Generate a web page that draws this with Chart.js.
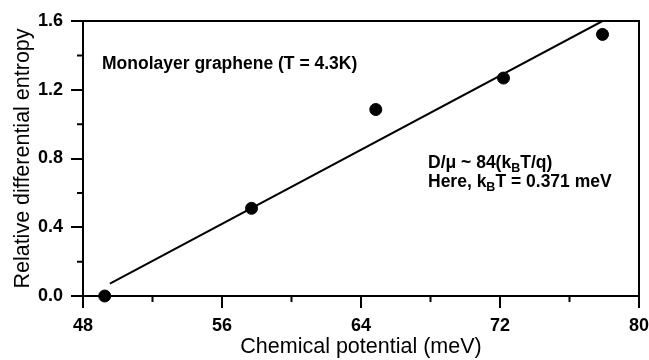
<!DOCTYPE html>
<html>
<head>
<meta charset="utf-8">
<script src="https://cdn.jsdelivr.net/npm/chart.js@4.4.1/dist/chart.umd.min.js"></script>
<style>
  html, body { margin: 0; padding: 0; background: #fff; }
  #wrap { width: 649px; height: 360px; }
</style>
</head>
<body>
<div id="wrap"><canvas id="entropy_chart" width="649" height="360"></canvas></div>
<script>
// measured points (chemical potential in meV, relative differential entropy)
const potential = [49.25, 57.7, 64.85, 72.2, 77.9];
const entropy = [0.0, 0.51, 1.085, 1.268, 1.522];
// linear fit drawn through the data
const fitX = [49.55, 77.9];
const fitY = [0.072, 1.6];
const xTicks = [48, 56, 64, 72, 80];
const yTicks = [0.0, 0.4, 0.8, 1.2, 1.6];

const FONT = '"Liberation Sans", Arial, sans-serif';

// minor ticks, outer box and text notes
const extras = {
  id: 'extras',
  afterDraw(chart) {
    const ctx = chart.ctx;
    const a = chart.chartArea;
    const xs = chart.scales.x, ys = chart.scales.y;
    ctx.save();
    ctx.strokeStyle = '#000';
    ctx.lineWidth = 2;
    ctx.beginPath();
    ctx.moveTo(a.left, a.top);
    ctx.lineTo(a.right, a.top);
    ctx.lineTo(a.right, a.bottom);
    ctx.stroke();

    // minor ticks halfway between labelled ones
    ctx.beginPath();
    for (let i = 0; i < xTicks.length - 1; i++) {
      const px = xs.getPixelForValue((xTicks[i] + xTicks[i + 1]) / 2);
      ctx.moveTo(px, a.bottom);
      ctx.lineTo(px, a.bottom + 6);
    }
    for (let i = 0; i < yTicks.length - 1; i++) {
      const py = ys.getPixelForValue((yTicks[i] + yTicks[i + 1]) / 2);
      ctx.moveTo(a.left, py);
      ctx.lineTo(a.left - 6, py);
    }
    ctx.stroke();

    ctx.fillStyle = '#000';
    ctx.textBaseline = 'alphabetic';
    ctx.textAlign = 'left';
    ctx.font = 'bold 17.5px ' + FONT;
    ctx.fillText('Monolayer graphene (T = 4.3K)', a.left + 19, a.top + 48);

    const runs1 = [['D/\u03bc ~ 84(k', 0], ['B', 1], ['T/q)', 0]];
    const runs2 = [['Here, k', 0], ['B', 1], ['T = 0.371 meV', 0]];
    drawRuns(ctx, runs1, a.left + 345, a.top + 147);
    drawRuns(ctx, runs2, a.left + 345, a.top + 166);
    ctx.restore();
  }
};

function drawRuns(ctx, runs, x, y) {
  runs.forEach(([txt, sub]) => {
    ctx.font = sub ? 'bold 12.5px ' + FONT : 'bold 17.5px ' + FONT;
    ctx.fillText(txt, x, sub ? y + 4 : y);
    x += ctx.measureText(txt).width;
  });
}

const ctx = document.getElementById('entropy_chart').getContext('2d');
new Chart(ctx, {
  type: 'scatter',
  data: {
    datasets: [{
      label: 'fit',
      type: 'line',
      data: fitX.map((x, i) => ({ x: x, y: fitY[i] })),
      borderColor: '#000',
      borderWidth: 2,
      pointRadius: 0,
      fill: false
    }, {
      label: 'data',
      data: potential.map((x, i) => ({ x: x, y: entropy[i] })),
      pointRadius: 6,
      pointHoverRadius: 6,
      backgroundColor: '#000',
      borderColor: '#000',
      clip: false
    }]
  },
  options: {
    responsive: false,
    animation: false,
    events: [],
    layout: { padding: { top: 21, right: 10, left: 0, bottom: 0 } },
    plugins: { legend: { display: false }, tooltip: { enabled: false } },
    scales: {
      x: {
        type: 'linear',
        min: 48,
        max: 80,
        afterBuildTicks: s => { s.ticks = xTicks.map(v => ({ value: v })); },
        afterFit: s => { s.height = 64; s.paddingLeft = 0; s.paddingRight = 0; },
        border: { color: '#000', width: 2 },
        grid: { drawOnChartArea: false, tickLength: 12, color: '#000', lineWidth: 2 },
        ticks: { color: '#000', padding: 7, font: { family: FONT, size: 18, weight: 'bold' } },
        title: {
          display: true,
          text: 'Chemical potential (meV)',
          color: '#000',
          padding: { top: 0, bottom: 0 },
          font: { family: FONT, size: 21.5 }
        }
      },
      y: {
        min: 0,
        max: 1.6,
        afterBuildTicks: s => { s.ticks = yTicks.map(v => ({ value: v })); },
        afterFit: s => { s.width = 83; s.paddingTop = 0; s.paddingBottom = 0; },
        border: { color: '#000', width: 2 },
        grid: { drawOnChartArea: false, tickLength: 12, color: '#000', lineWidth: 2 },
        ticks: {
          color: '#000',
          padding: 8,
          font: { family: FONT, size: 18, weight: 'bold' },
          callback: v => v.toFixed(1)
        },
        title: {
          display: true,
          text: 'Relative differential entropy',
          color: '#000',
          padding: { top: 10, bottom: 0 },
          font: { family: FONT, size: 21.5 }
        }
      }
    }
  },
  plugins: [extras]
});
</script>
</body>
</html>
